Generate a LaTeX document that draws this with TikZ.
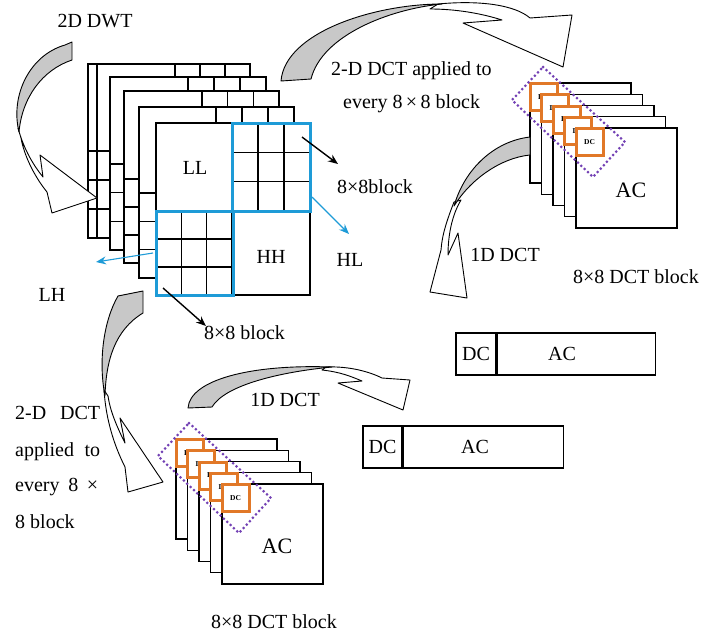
\documentclass[tikz,border=0pt]{standalone}
\usepackage{fontspec}
\setmainfont{Liberation Serif}
\usetikzlibrary{arrows.meta}
\definecolor{dwtblue}{RGB}{30,155,215}
\definecolor{dcorange}{RGB}{225,120,40}
\definecolor{dotpurple}{RGB}{115,65,180}
\definecolor{arrowgray}{RGB}{200,200,200}
\newcommand\dwtlayer[6]{%
  \filldraw[layerline,fill=white] (#1,#2) rectangle (#3,#4);
  \foreach \i in {0,1,2}{\draw[layerline] ({#5+\i*(#3-#5)/3},#2) -- ({#5+\i*(#3-#5)/3},#6);}
  \foreach \j in {1,2,3}{\draw[layerline] (#5,{#2+\j*(#6-#2)/3}) -- (#3,{#2+\j*(#6-#2)/3});}
  \foreach \i in {1,2,3}{\draw[layerline] ({#1+\i*(#5-#1)/3},#6) -- ({#1+\i*(#5-#1)/3},#4);}
  \foreach \j in {0,1,2}{\draw[layerline] (#1,{#6+\j*(#4-#6)/3}) -- (#5,{#6+\j*(#4-#6)/3});}
}
\newcommand\dctstack[3]{%
  \foreach \k in {0,...,4}{%
    \filldraw[layerline,fill=white] ({#1+11.5*\k},{#2+11.25*\k}) rectangle ++(101,100);
  }
  \foreach \k in {0,...,4}{%
    \node[dcsq] (#3dc\k) at ({#1+11.5*\k+13.5},{#2+11.25*\k+14}) {DC};
  }
  \node[aclbl] (#3ac) at ({#1+46+55},{#2+45+62}) {AC};
  \draw[purpledots] ({#1+46-33},{#2+45-61}) -- ({#1+46+49},{#2+45+14}) -- ({#1+46+17},{#2+45+49}) -- ({#1+46-64},{#2+45-28}) -- cycle;
}
\begin{document}
\begin{tikzpicture}[x=1pt,y=-1pt,
  layerline/.style={draw=black,line width=1.1pt},
  bluebox/.style={draw=dwtblue,line width=3pt},
  lbl/.style={font=\fontsize{20}{22}\selectfont,inner sep=0pt},
  aclbl/.style={font=\fontsize{22}{24}\selectfont,inner sep=0pt},
  dcsq/.style={draw=dcorange,line width=3pt,fill=white,minimum size=27pt,inner sep=0pt,font=\fontsize{7.5}{8}\selectfont\bfseries},
  purpledots/.style={draw=dotpurple,line width=3pt,dash pattern=on 0pt off 4.6pt,line cap=round},
  crescent/.style={draw=black,line width=0.9pt,fill=arrowgray,line join=round},
  headwhite/.style={draw=black,line width=0.9pt,fill=white,line join=round},
  blk/.style={draw=black,line width=1.4pt,-{Stealth[length=10pt,width=8pt]}},
  blu/.style={draw=dwtblue,line width=1.4pt,-{Stealth[length=10pt,width=8pt]}},
  databox/.style={draw=black,line width=1.1pt,inner sep=0pt,minimum height=42pt}]
\useasboundingbox (0,0) rectangle (706,635);

% ---- DWT layer stack ----
\dwtlayer{88}{64}{250}{238}{175}{151}
\draw[layerline] (97,64) -- (97,238);
\dwtlayer{110}{77}{266}{250}{188}{164}
\dwtlayer{124}{91}{279}{263}{202}{179}
\dwtlayer{139}{107}{294}{278}{216}{193}
\dwtlayer{156}{123}{310}{295}{232}{211}
\draw[bluebox] (232,123) rectangle (310,211);
\draw[bluebox] (156,211) rectangle (233,295);
\node[lbl] (LL) at (195,168) {LL};
\node[lbl] (HH) at (271,257) {HH};

% ---- labels around the stack ----
\node[lbl] (dwt) at (95,21) {2D DWT};
\node[lbl,anchor=west] (apply1) at (331,71) {2-D\ DCT applied to};
\node[lbl,anchor=west] (apply2) at (343,104) {every 8\,×\,8 block};
\node[lbl,anchor=west] (blk1) at (337,187) {8×8block};
\node[lbl] (HL) at (350,260) {HL};
\node[lbl] (LH) at (52,295) {LH};
\node[lbl,anchor=west] (blk2) at (204,333) {8×8 block};

% ---- small arrows ----
\coordinate (a1s) at (302,137); \coordinate (a1e) at (338,164);
\coordinate (a2s) at (312,197); \coordinate (a2e) at (349,234);
\coordinate (a3s) at (153,253); \coordinate (a3e) at (96,262);
\coordinate (a4s) at (163,288); \coordinate (a4e) at (206,326);
\draw[blk] (a1s) -- (a1e);
\draw[blu] (a2s) -- (a2e);
\draw[blu,line width=1.1pt] (a3s) -- (a3e);
\draw[blk] (a4s) -- (a4e);

% ---- DCT stacks ----
\dctstack{530}{83}{tr}
\dctstack{176}{439}{bl}
\node[lbl] (tr1d) at (505,255) {1D DCT};
\node[lbl] (trcap) at (636,277) {8×8 DCT block};
\node[lbl] (bl1d) at (285,400) {1D DCT};
\node[lbl] (blcap) at (274,622) {8×8 DCT block};

% ---- left text ----
\node[lbl,anchor=west] (lt1) at (15,413) {\makebox[85pt][s]{2-D DCT}};
\node[lbl,anchor=west] (lt2) at (15,452) {\makebox[85pt][s]{applied to}};
\node[lbl,anchor=west] (lt3) at (15,487) {\makebox[83pt][s]{every 8 ×}};
\node[lbl,anchor=west] (lt4) at (15,522) {8 block};

% ---- DC | AC vectors ----
\node[databox,minimum width=40pt] (dcA) at (476,354) {};
\node[databox,minimum width=158pt,anchor=west] (acA) at (dcA.east) {};
\node[lbl] at (476,354) {DC};
\node[lbl] (acAt) at (562,354) {AC};
\node[databox,minimum width=39pt] (dcB) at (382.5,447) {};
\node[databox,minimum width=160pt,anchor=west] (acB) at (dcB.east) {};
\node[lbl] at (382.5,447) {DC};
\node[lbl] (acBt) at (475,447) {AC};

% ---- curved block arrows ----
% A: 2D DWT
\draw[headwhite] (18,128) .. controls (24,150) and (34,166) .. (43,177) -- (40,155) -- (97,198) -- (52,213) -- (47,192) .. controls (34,176) and (24,155) .. (21,138) -- cycle;
\draw[crescent] (65,45) -- (72,42) -- (72,60) .. controls (42,70) and (22,98) .. (19,132) .. controls (10,95) and (30,55) .. (65,45) -- cycle;
% B: top
\draw[headwhite] (438,4) .. controls (480,0) and (515,5) .. (530,18) -- (572,15) -- (563,67) -- (463,23) -- (502,20) .. controls (480,13) and (455,9) .. (430,9) -- cycle;
\draw[crescent] (281,81) .. controls (285,32) and (375,4) .. (442,4) .. controls (390,9) and (322,35) .. (311,79) -- cycle;
% C: right 1D DCT
\draw[headwhite] (454,202) .. controls (447,220) and (442,235) .. (441,250) -- (430,292) -- (467,298) -- (458,233) -- (448,255) .. controls (448,235) and (452,215) .. (461,200) -- cycle;
\draw[crescent] (530,137) .. controls (495,141) and (465,168) .. (454,206) .. controls (470,180) and (500,158) .. (530,155) -- cycle;
% D: bottom-left
\draw[headwhite] (104,390) .. controls (106,420) and (114,445) .. (125,467) -- (128,492) -- (163,482) -- (120,418) -- (125,443) .. controls (116,425) and (110,410) .. (108,396) -- cycle;
\draw[crescent] (118,296) -- (143,291) -- (143,313) .. controls (115,330) and (106,360) .. (105,396) .. controls (98,360) and (104,320) .. (118,296) -- cycle;
% E: bottom 1D DCT
\draw[headwhite] (326,367) .. controls (350,366) and (370,372) .. (382,378) -- (410,380) -- (403,410) -- (338,383) -- (362,381) .. controls (350,376) and (340,372) .. (322,370) -- cycle;
\draw[crescent] (188,408) .. controls (190,380) and (250,364) .. (332,367) .. controls (280,372) and (225,385) .. (212,407) -- cycle;
\end{tikzpicture}
\end{document}
